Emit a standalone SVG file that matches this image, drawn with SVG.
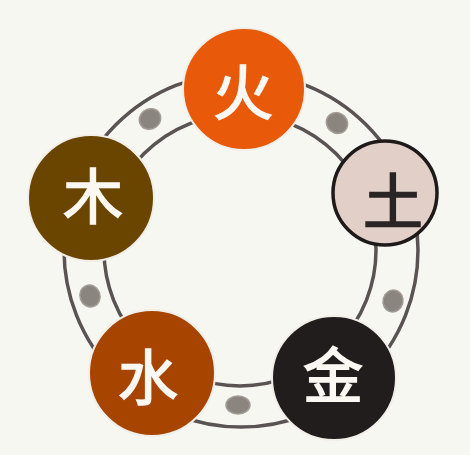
<svg xmlns="http://www.w3.org/2000/svg" width="470" height="455" viewBox="0 0 470 455">
<style>
.ring{fill:none;stroke:#595353;stroke-width:3.5}
.blob{fill:#8a857f;stroke:#a39d97;stroke-width:1.5}
.node{stroke:#f2eee8;stroke-width:2}
.ch{font-family:"Noto Sans CJK SC","Noto Sans CJK JP",sans-serif;font-weight:normal;font-size:60px;text-anchor:middle;dominant-baseline:central;fill:#fbf8f4;stroke:#fbf8f4;stroke-width:1.6}
</style>
<rect width="470" height="455" fill="#f7f7f2"/>
<g id="connectors">
<circle class="ring" cx="240" cy="250" r="136"/>
<circle class="ring" cx="241" cy="250" r="177"/>
<ellipse class="blob" cx="150" cy="119" rx="11" ry="10" transform="rotate(-35 150 119)"/>
<ellipse class="blob" cx="337" cy="123" rx="11" ry="10" transform="rotate(38 337 123)"/>
<ellipse class="blob" cx="393" cy="301" rx="11" ry="10" transform="rotate(105 393 301)"/>
<ellipse class="blob" cx="238" cy="405" rx="12" ry="9"/>
<ellipse class="blob" cx="90" cy="296" rx="11" ry="10" transform="rotate(70 90 296)"/>
</g>
<g id="fire">
<circle class="node" cx="244" cy="89" r="61" fill="#e85a0a"/>
<text class="ch" x="243" y="88">火</text>
</g>
<g id="earth">
<circle cx="385" cy="193" r="52" fill="#e2d0c8" stroke="#1e1a1a" stroke-width="3.5"/>
<text class="ch" x="393" y="197" style="fill:#2a2424;stroke:#2a2424">土</text>
</g>
<g id="metal">
<circle class="node" cx="334" cy="378" r="62" fill="#221d1d"/>
<text class="ch" x="333" y="371">金</text>
</g>
<g id="water">
<circle class="node" cx="152" cy="373" r="63" fill="#a64400"/>
<text class="ch" x="148" y="373">水</text>
</g>
<g id="wood">
<circle class="node" cx="91" cy="198" r="63" fill="#6a4500"/>
<text class="ch" x="93" y="192">木</text>
</g>
</svg>
